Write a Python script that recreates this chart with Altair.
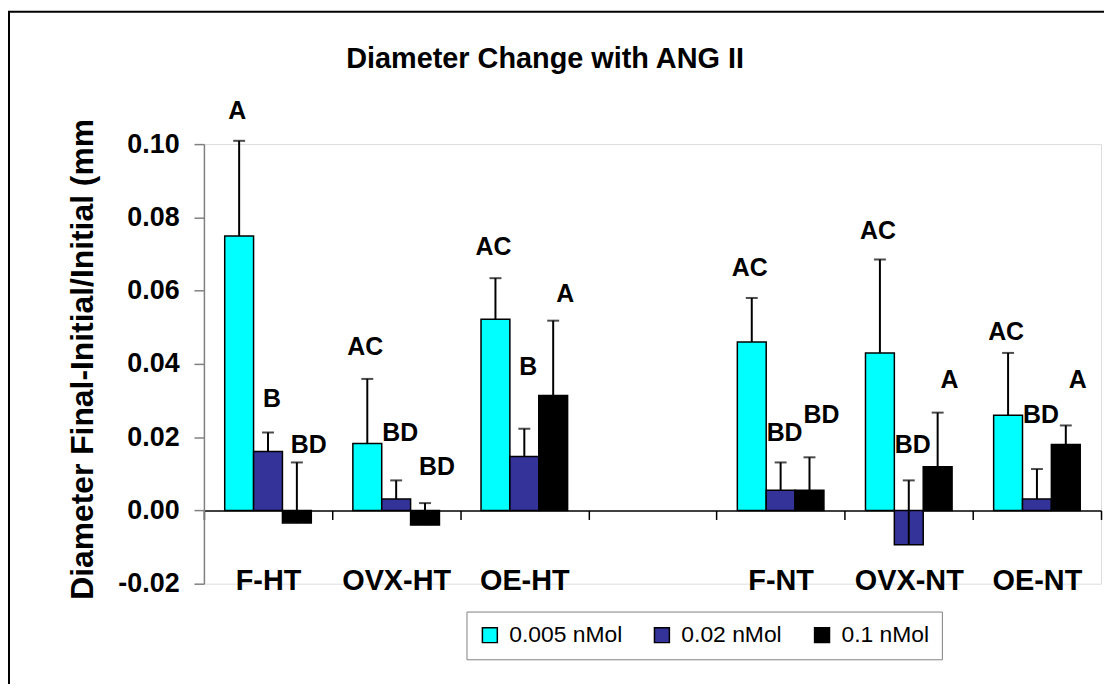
import altair as alt
import pandas as pd

FONT = "Liberation Sans"

# categories (a blank slot separates the HT and NT groups)
groups = ["F-HT", "OVX-HT", "OE-HT", " ", "F-NT", "OVX-NT", "OE-NT"]
bar_groups = ["F-HT", "OVX-HT", "OE-HT", "F-NT", "OVX-NT", "OE-NT"]
doses = ["0.005 nMol", "0.02 nMol", "0.1 nMol"]
colors = ["#00FFFF", "#333399", "#000000"]

# mean diameter change
mean_005 = [0.0749, 0.0183, 0.0522, 0.0460, 0.0430, 0.0260]
mean_002 = [0.0161, 0.0031, 0.0147, 0.0055, -0.0094, 0.0031]
mean_01 = [-0.0034, -0.0040, 0.0314, 0.0055, 0.0119, 0.0180]

# error (upper only)
err_005 = [0.0260, 0.0176, 0.0112, 0.0120, 0.0255, 0.0170]
err_002 = [0.0052, 0.0051, 0.0076, 0.0076, 0.0176, 0.0082]
err_01 = [0.0165, 0.0060, 0.0204, 0.0090, 0.0148, 0.0052]

# significance letters and the height at which each sits
let_005 = ["A", "AC", "AC", "AC", "AC", "AC"]
let_002 = ["B", "BD", "B", "BD", "BD", "BD"]
let_01 = ["BD", "BD", "A", "BD", "A", "A"]
lab_005 = [0.1091, 0.0447, 0.0719, 0.0663, 0.0764, 0.0486]
lab_002 = [0.0304, 0.0212, 0.0391, 0.0212, 0.0178, 0.0261]
lab_01 = [0.0179, 0.0118, 0.0591, 0.0261, 0.0356, 0.0356]

y_ticks = [-0.02, 0.0, 0.02, 0.04, 0.06, 0.08, 0.10]

rows = []
for dose, means, errs, lets, labs in [
    (doses[0], mean_005, err_005, let_005, lab_005),
    (doses[1], mean_002, err_002, let_002, lab_002),
    (doses[2], mean_01, err_01, let_01, lab_01),
]:
    for g, m, e, l, ly in zip(bar_groups, means, errs, lets, labs):
        rows.append({"group": g, "dose": dose, "value": m, "top": m + e,
                     "letter": l, "label_y": ly})
df = pd.DataFrame(rows)

yscale = alt.Scale(domain=[-0.02, 0.10], nice=False)

x_enc = alt.X(
    "group:N",
    scale=alt.Scale(domain=groups, paddingInner=0, paddingOuter=0),
    axis=alt.Axis(
        title=None, orient="bottom", offset=-73.6, labelAngle=0,
        domainColor="black", domainWidth=1.5,
        tickColor="black", tickWidth=1.5, tickSize=9, tickBand="extent",
        labelFont=FONT, labelFontSize=29, labelFontWeight="bold", labelColor="black",
        labelBaseline="alphabetic", labelPadding=70.6,
    ),
)
xoff_enc = alt.XOffset("dose:N", scale=alt.Scale(domain=doses, paddingInner=0, paddingOuter=0.72))

base = alt.Chart(df).encode(x=x_enc, xOffset=xoff_enc)

bars = base.mark_bar(stroke="black", strokeWidth=1.5).encode(
    y=alt.Y(
        "value:Q", scale=yscale,
        axis=alt.Axis(
            values=y_ticks, format=".2f", grid=False,
            labelExpr="replace(datum.label, '\u2212', '-')",
            labelFont=FONT, labelFontSize=27, labelFontWeight="bold", labelColor="black",
            labelPadding=15, tickSize=10, tickColor="#808080", tickWidth=1.5,
            domainColor="#808080", domainWidth=1.5,
            title="Diameter Final-Initial/Initial (mm",
            titleFont=FONT, titleFontSize=32, titleFontWeight="bold", titleColor="black",
            titleX=-122.5, titleY=216, titleAlign="center", titleBaseline="middle",
        ),
    ),
    color=alt.Color(
        "dose:N",
        scale=alt.Scale(domain=doses, range=colors),
        legend=alt.Legend(
            orient="none", legendX=264, legendY=470, direction="horizontal", title=None,
            symbolType="square", symbolSize=225, symbolStrokeColor="black",
            symbolStrokeWidth=1.5, labelFont=FONT, labelFontSize=23, labelColor="black",
            labelOffset=8, columnPadding=28, padding=12,
            strokeColor="#808080", fillColor="white",
        ),
    ),
)

rules = base.mark_rule(color="black", strokeWidth=2).encode(
    y=alt.Y("value:Q", scale=yscale), y2="top:Q"
)
caps = base.mark_tick(color="black", thickness=2, size=12, orient="horizontal").encode(
    y=alt.Y("top:Q", scale=yscale)
)

label_layers = []
for dose, dx in zip(doses, [-2, 4, 12]):
    label_layers.append(
        base.transform_filter(alt.datum.dose == dose)
        .mark_text(font=FONT, fontSize=25, fontWeight="bold", color="black",
                   baseline="middle", dx=dx)
        .encode(y=alt.Y("label_y:Q", scale=yscale), text="letter:N")
    )

frame = alt.Chart(pd.DataFrame({"k": [0]})).mark_rect(
    filled=False, stroke="black", strokeWidth=2
).encode(x=alt.value(-196), x2=alt.value(1100), y=alt.value(-133), y2=alt.value(800))

chart = alt.layer(frame, bars, rules, caps, *label_layers).properties(
    width=902,
    height=442,
    autosize=alt.AutoSizeParams(type="none"),
    padding={"left": 197, "top": 135, "right": 3, "bottom": 99},
    title=alt.TitleParams(
        "Diameter Change with ANG II", font=FONT, fontSize=29, fontWeight="bold",
        color="black", anchor="middle", frame="group", dx=-108, offset=-63,
    ),
).configure_view(stroke=None).configure(background="white")

chart.save("out.html", embed_options={"renderer": "svg", "actions": False})
